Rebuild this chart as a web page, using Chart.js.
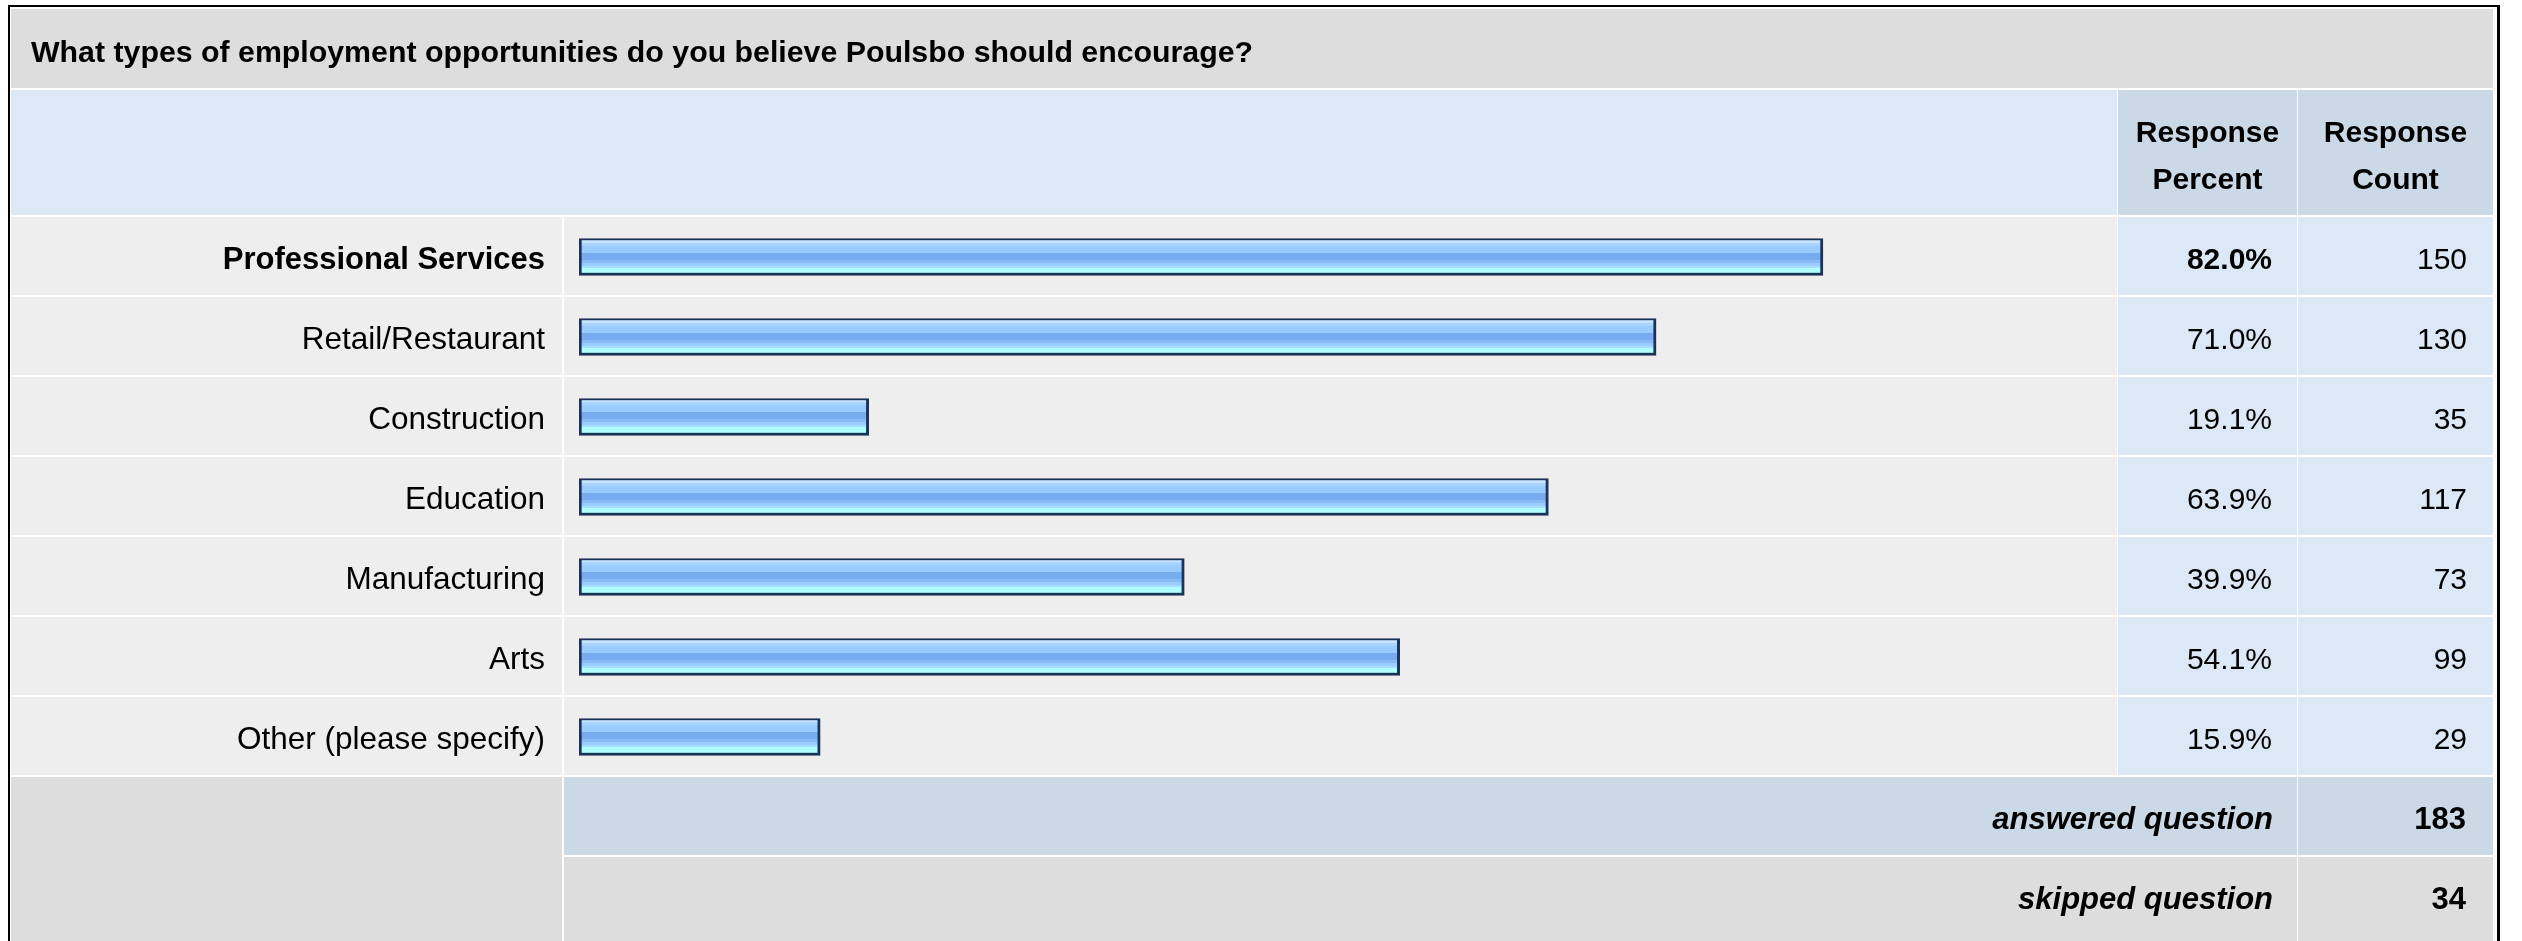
<!DOCTYPE html>
<html>
<head>
<meta charset="utf-8">
<script src="https://cdn.jsdelivr.net/npm/chart.js@4/dist/chart.umd.min.js"></script>
<style>
  html, body { margin: 0; padding: 0; background: #ffffff; }
  #wrap { position: relative; width: 2522px; height: 941px; }
  canvas { display: block; }
</style>
</head>
<body>
<div id="wrap"><canvas id="c" width="2522" height="941"></canvas></div>
<script>
// ---- data ----
const questionTitle = 'What types of employment opportunities do you believe Poulsbo should encourage?';
const categories = ['Professional Services', 'Retail/Restaurant', 'Construction', 'Education', 'Manufacturing', 'Arts', 'Other (please specify)'];
const responsePercent = [82.0, 71.0, 19.1, 63.9, 39.9, 54.1, 15.9];
const responseCount = [150, 130, 35, 117, 73, 99, 29];
const headerPercent = ['Response', 'Percent'];
const headerCount = ['Response', 'Count'];
const summaryLabels = ['answered question', 'skipped question'];
const summaryValues = [183, 34];

// ---- layout constants ----
const FONT = "'Liberation Sans', Arial, Helvetica, sans-serif";
const COL = { labelL: 11, labelR: 562, barL: 564, barR: 2117, pctL: 2118, pctR: 2297, cntL: 2298, cntR: 2493 };
const ROW0 = 217, ROWH = 80, ROWIN = 78;
const maxIdx = responseCount.indexOf(Math.max(...responseCount));

function fillRect(ctx, x0, y0, x1, y1, color) {
  ctx.fillStyle = color;
  ctx.fillRect(x0, y0, x1 - x0, y1 - y0);
}

const tablePlugin = {
  id: 'surveyTable',
  beforeDraw(chart) {
    const ctx = chart.ctx;
    ctx.save();
    fillRect(ctx, 0, 0, 2522, 941, '#ffffff');
    // outer frame
    fillRect(ctx, 8, 5, 2500, 941, '#000000');
    fillRect(ctx, 10, 7, 2497, 941, '#ffffff');
    // title band
    fillRect(ctx, COL.labelL, 9, COL.cntR, 88, '#dddddd');
    // header row
    fillRect(ctx, COL.labelL, 90, COL.barR, 215, '#dce8f5');
    fillRect(ctx, COL.pctL, 90, COL.pctR, 215, '#cbd8e6');
    fillRect(ctx, COL.cntL, 90, COL.cntR, 215, '#cbd8e6');
    // data rows
    for (let i = 0; i < categories.length; i++) {
      const t = ROW0 + i * ROWH, b = t + ROWIN;
      fillRect(ctx, COL.labelL, t, COL.labelR, b, '#eeeeee');
      fillRect(ctx, COL.barL, t, COL.barR, b, '#eeeeee');
      fillRect(ctx, COL.pctL, t, COL.pctR, b, '#dce8f5');
      fillRect(ctx, COL.cntL, t, COL.cntR, b, '#dce8f5');
    }
    // summary rows
    const aT = ROW0 + categories.length * ROWH; // 777
    fillRect(ctx, COL.labelL, aT, COL.labelR, aT + ROWIN + 2, '#dddddd');
    fillRect(ctx, COL.barL, aT, COL.pctR, aT + ROWIN, '#cbd8e6');
    fillRect(ctx, COL.cntL, aT, COL.cntR, aT + ROWIN, '#cbd8e6');
    const sT = aT + ROWH; // 857
    fillRect(ctx, COL.labelL, sT - 2, COL.labelR, 941, '#dddddd');
    fillRect(ctx, COL.barL, sT, COL.pctR, 941, '#dddddd');
    fillRect(ctx, COL.cntL, sT, COL.cntR, 941, '#dddddd');
    ctx.restore();
  },
  afterDraw(chart) {
    const ctx = chart.ctx;
    ctx.save();
    ctx.fillStyle = '#000000';
    ctx.textBaseline = 'alphabetic';
    // title
    ctx.font = 'bold 30.3px ' + FONT;
    ctx.textAlign = 'left';
    ctx.fillText(questionTitle, 31, 62);
    // headers
    ctx.font = 'bold 30px ' + FONT;
    ctx.textAlign = 'center';
    const pc = (COL.pctL + COL.pctR) / 2, cc = (COL.cntL + COL.cntR) / 2;
    ctx.fillText(headerPercent[0], pc, 142);
    ctx.fillText(headerPercent[1], pc, 189);
    ctx.fillText(headerCount[0], cc, 142);
    ctx.fillText(headerCount[1], cc, 189);
    // values
    ctx.textAlign = 'right';
    for (let i = 0; i < categories.length; i++) {
      const base = ROW0 + i * ROWH + 52;
      ctx.font = (i === maxIdx ? 'bold ' : '') + '30px ' + FONT;
      ctx.fillText(responsePercent[i].toFixed(1) + '%', 2272, base);
      ctx.font = '30px ' + FONT;
      ctx.fillText(String(responseCount[i]), 2467, base);
    }
    // summary
    for (let j = 0; j < summaryLabels.length; j++) {
      const base = ROW0 + (categories.length + j) * ROWH + 52;
      ctx.font = 'italic bold 31px ' + FONT;
      ctx.fillText(summaryLabels[j], 2273, base);
      ctx.font = 'bold 31px ' + FONT;
      ctx.fillText(String(summaryValues[j]), 2466, base);
    }
    ctx.restore();
  }
};

function barFill(context) {
  const chart = context.chart;
  const ys = chart.scales && chart.scales.y;
  if (!ys || context.type !== 'data' || typeof context.dataIndex !== 'number') return '#99ccff';
  const c = ys.getPixelForValue(context.dataIndex);
  if (!isFinite(c)) return '#99ccff';
  const top = c - 18.5, h = 37;
  const g = chart.ctx.createLinearGradient(0, top, 0, top + h);
  const stripes = [
    [0, 4, '#c6e3ff'],
    [4, 7, '#a9d4ff'],
    [7, 14, '#99ccff'],
    [14, 21, '#77adef'],
    [21, 24, '#88bbf7'],
    [24, 27, '#99ccff'],
    [27, 29, '#aaddff'],
    [29, 37, '#b0ffff']
  ];
  for (const [a, b, col] of stripes) {
    g.addColorStop(a / h, col);
    g.addColorStop(b / h, col);
  }
  return g;
}

new Chart(document.getElementById('c'), {
  type: 'bar',
  data: {
    labels: categories,
    datasets: [{
      data: responsePercent,
      backgroundColor: barFill,
      borderColor: '#1b3358',
      borderWidth: { top: 2, bottom: 3, left: 3, right: 3 },
      borderSkipped: false,
      barThickness: 37
    }]
  },
  options: {
    indexAxis: 'y',
    responsive: false,
    devicePixelRatio: 1,
    animation: false,
    events: [],
    layout: { padding: { left: 0, top: 217, right: 426, bottom: 164 } },
    plugins: { legend: { display: false }, tooltip: { enabled: false }, title: { display: false } },
    scales: {
      x: { display: false, min: 0, max: 100 },
      y: {
        type: 'category',
        offset: true,
        grid: { display: false, drawTicks: false },
        border: { display: false },
        afterFit(scale) { scale.width = 579; },
        ticks: {
          padding: 34,
          labelOffset: 3,
          color: '#000000',
          autoSkip: false,
          font: (ctx) => ({ family: FONT, size: ctx.index === maxIdx ? 31 : 31.5, weight: ctx.index === maxIdx ? 'bold' : 'normal' })
        }
      }
    }
  },
  plugins: [tablePlugin]
});
</script>
</body>
</html>
